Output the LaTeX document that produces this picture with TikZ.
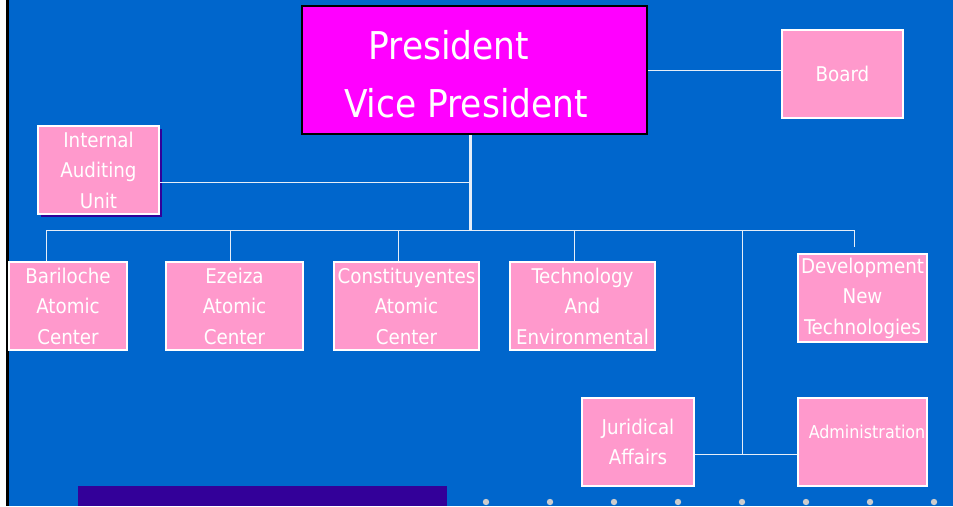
\documentclass[tikz,border=0pt]{standalone}
\usepackage{fontspec}
\setmainfont{DejaVu Sans Condensed}
\usetikzlibrary{shadows}
\definecolor{bgblue}{HTML}{0066CC}
\definecolor{pinkbox}{HTML}{FF99CC}
\definecolor{magbox}{HTML}{FF00FF}
\definecolor{shad}{HTML}{330099}
\definecolor{dotc}{HTML}{CCCCCC}
\definecolor{linec}{HTML}{E6EEF8}
\begin{document}
\begin{tikzpicture}[x=1pt,y=-1pt,
  unitbox/.style={draw=white, line width=1.2pt, fill=pinkbox, inner sep=0pt, text=white,
    align=center, font=\fontsize{20.3}{30.5}\selectfont},
  conn/.style={draw=linec, line width=1pt},
  ptext/.style={text=white, inner sep=0pt, font=\fontsize{38.3}{40}\selectfont}]
\useasboundingbox (0,0) rectangle (953,506);
\fill[white] (0,0) rectangle (953,506);
\fill[bgblue] (9,0) rectangle (953,506);
\fill[black] (6,0) rectangle (9,506);
% bottom decoration
\fill[shad] (78,486) rectangle (447,506);
\foreach \x in {486,550,...,934} \fill[dotc] (\x,502) circle (3.2pt);
% president
\node[draw=black, line width=1.5pt, fill=magbox, minimum width=345pt, minimum height=128pt, inner sep=0pt] (pres) at (474.5,70) {};
\node[ptext, anchor=base] (presA) at (449,59) {President};
\node[ptext, anchor=base] (presB) at (466,117) {Vice President};
% board
\node[unitbox, minimum width=121pt, minimum height=88pt] (board) at (842.5,74) {Board};
% internal auditing
\node[unitbox, minimum width=121pt, minimum height=88pt,
  drop shadow={shadow xshift=2.7pt, shadow yshift=-2.7pt, fill=shad, opacity=1}] (iau) at (98.5,170) {Internal\\Auditing\\Unit};
% row of units
\node[unitbox, minimum width=118pt, minimum height=88pt] (bari) at (68,306) {Bariloche\\Atomic\\Center};
\node[unitbox, minimum width=137pt, minimum height=88pt] (ezei) at (234.5,306) {Ezeiza\\Atomic\\Center};
\node[unitbox, minimum width=145pt, minimum height=88pt] (cons) at (406.5,306) {Constituyentes\\Atomic\\Center};
\node[unitbox, minimum width=145pt, minimum height=88pt] (tech) at (582.5,306) {Technology\\And\\Environmental};
\node[unitbox, minimum width=129pt, minimum height=88pt] (devt) at (862.5,298) {Development\\New\\Technologies};
\node[unitbox, minimum width=112pt, minimum height=88pt] (jur) at (638,442) {Juridical\\Affairs};
\node[unitbox, minimum width=129pt, minimum height=88pt] (adm) at (862.5,442) {};
\node[text=white, inner sep=0pt, font=\fontsize{17.7}{20}\selectfont] (admtxt) at (867,432) {Administration};
% coordinates
\coordinate (bdj) at (0,70);
\coordinate (ia) at (470,182);
\coordinate (bus) at (470,230);
\coordinate (b1) at (46,230);
\coordinate (b2) at (230,230);
\coordinate (b3) at (398,230);
\coordinate (b4) at (574,230);
\coordinate (b5) at (742,230);
\coordinate (b6) at (854,230);
\coordinate (devend) at (854,247);
\coordinate (jn) at (742,454);
% connectors
\draw[conn] (pres.east |- bdj) -- (board.west |- bdj);
\draw[conn] (iau.east |- ia) -- (ia);
\draw[conn] (b1) -- (b6);
\draw[conn] (b1) -- (b1 |- bari.north);
\draw[conn] (b2) -- (b2 |- ezei.north);
\draw[conn] (b3) -- (b3 |- cons.north);
\draw[conn] (b4) -- (b4 |- tech.north);
\draw[conn] (b6) -- (devend);
\draw[conn] (b5) -- (jn);
\draw[conn] (jur.east |- jn) -- (adm.west |- jn);
\draw[draw=linec, line width=3pt] (pres.south -| bus) -- (bus);
\end{tikzpicture}
\end{document}
